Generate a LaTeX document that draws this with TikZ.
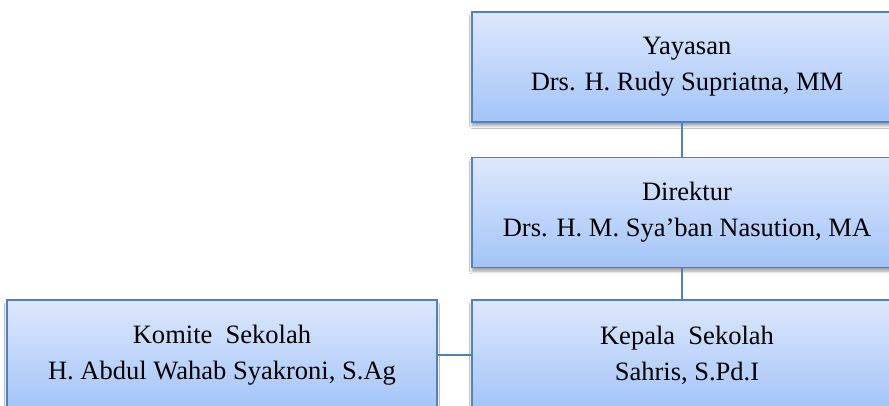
\documentclass[tikz,border=0pt]{standalone}
\usepackage{fontspec}
\setmainfont{Liberation Serif}
\usetikzlibrary{shadows.blur}
\definecolor{boxline}{RGB}{79,129,189}
\definecolor{boxtop}{RGB}{221,232,252}
\definecolor{boxbottom}{RGB}{163,196,248}
\tikzset{
  orgbox/.style={draw=boxline, line width=1.2pt, top color=boxtop, bottom color=boxbottom,
    minimum width=322.5pt, minimum height=82.5pt, align=center, inner sep=0pt,
    font=\fontsize{19.9}{27}\selectfont,
    blur shadow={shadow xshift=0pt, shadow yshift=-3pt, shadow blur steps=6, shadow opacity=35}},
  orgline/.style={draw=boxline, line width=1.5pt}
}
\begin{document}
\begin{tikzpicture}[x=0.75pt,y=0.75pt]
        \useasboundingbox (0,0) rectangle (889,406);
        \fill[white] (0,0) rectangle (889,406);
        \node[orgbox] (yayasan) at (687,339) {Yayasan\\Drs. H. Rudy Supriatna, MM};
        \node[orgbox] (direktur) at (687,193.5) {Direktur\\Drs. H. M. Sya’ban Nasution, MA};
        \node[orgbox] (kepala) at (687,51) {Kepala\ \ Sekolah\\Sahris, S.Pd.I};
        \node[orgbox] (komite) at (222,51) {Komite\ \ Sekolah\\H. Abdul Wahab Syakroni, S.Ag};
        \coordinate (trunk) at (682,0);
        \draw[orgline] (yayasan.south -| trunk) -- (direktur.north -| trunk);
        \draw[orgline] (direktur.south -| trunk) -- (kepala.north -| trunk);
        \draw[orgline] (komite.east) -- (kepala.west);
    \end{tikzpicture}
\end{document}
